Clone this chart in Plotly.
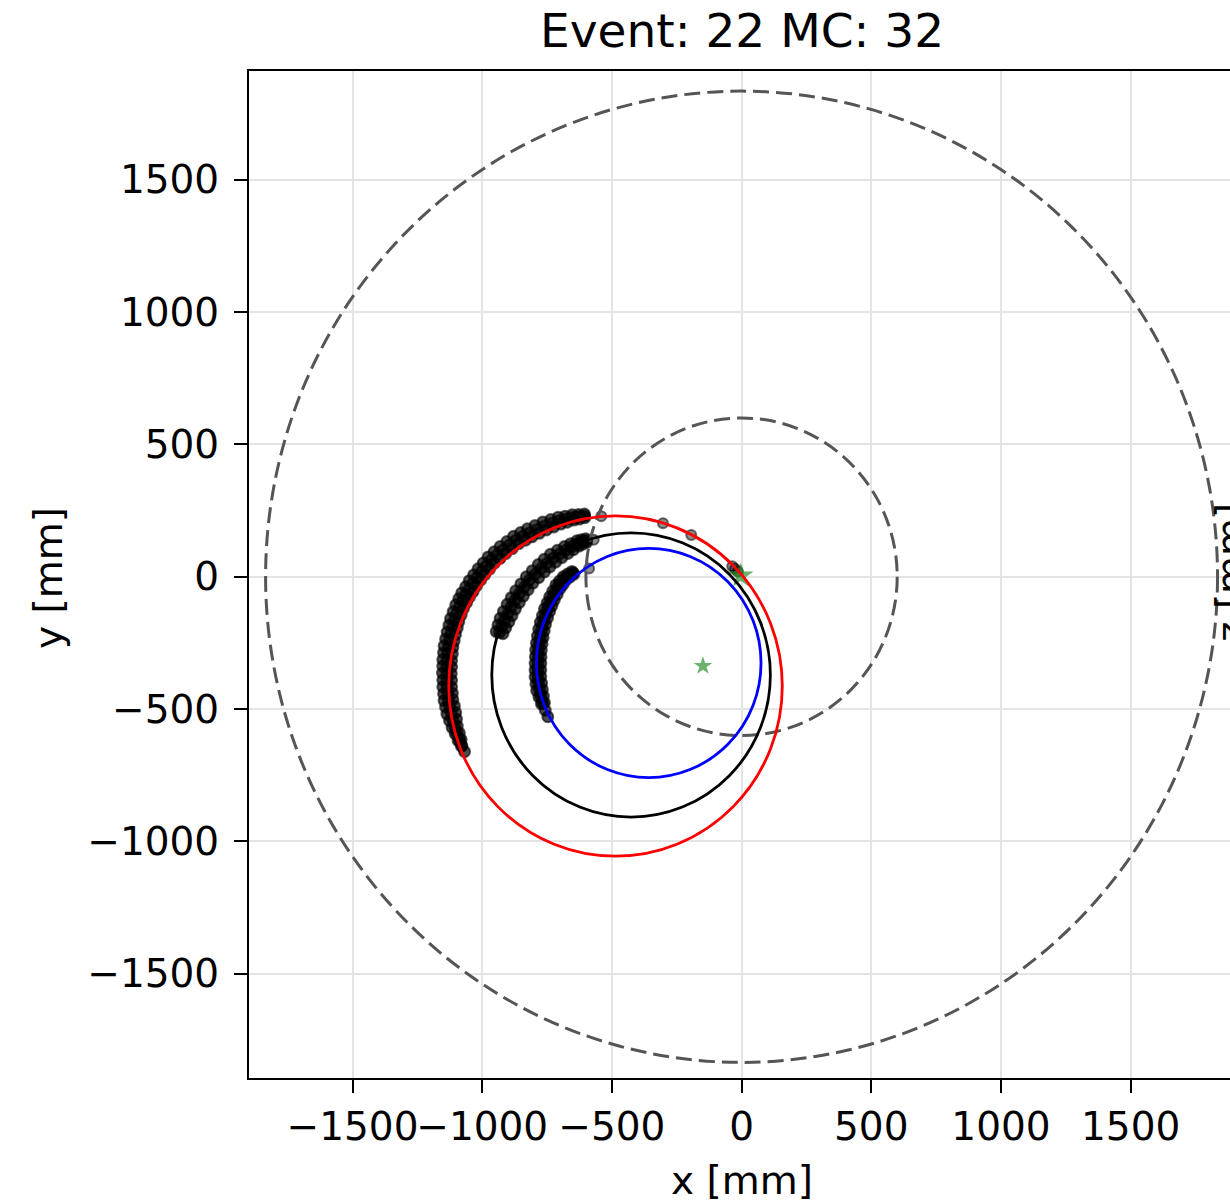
import plotly.graph_objects as go

# ---------------- data (mm) ----------------
title_text = "Event: 22 MC: 32"
tick_vals = [-1500, -1000, -500, 0, 500, 1000, 1500]

# outer arc of hits (rows read across the dense band: centre, mid-centre, outer, inner, outer-mid, inner-mid)
arc1_x = [-1068, -1087, -1106, -1119, -1130, -1135, -1136, -1135, -1130, -1119, -1106, -1087,
          -1064, -1036, -1003, -965, -920, -869, -817, -759, -702, -650, -605,
          -1078, -1097, -1113, -1125, -1133, -1136, -1136, -1133, -1125, -1113, -1097, -1076,
          -1050, -1020, -984, -943, -895, -843, -788, -731, -676, -628,
          -1093, -1116, -1136, -1147, -1152, -1153, -1152, -1147, -1135, -1122, -1102, -1079,
          -1050, -1016, -977, -931, -879, -826, -766, -707, -653, -606,
          -1081, -1096, -1102, -1113, -1118, -1119, -1118, -1113, -1103, -1090, -1072, -1049,
          -1022, -990, -953, -909, -859, -808, -752, -697, -647, -604,
          -1080, -1104, -1126, -1141, -1149, -1152, -1152, -1149, -1141, -1128, -1112, -1090,
          -1064, -1033, -996, -954, -905, -852, -796, -736, -680, -629,
          -1088, -1099, -1107, -1115, -1118, -1118, -1115, -1108, -1096, -1081, -1060, -1035,
          -1006, -971, -931, -884, -833, -780, -724, -672, -625]
arc1_y = [-661, -617, -567, -516, -466, -416, -365, -315, -264, -214, -164, -113,
          -69, -25, 19, 63, 101, 139, 166, 192, 212, 224, 230,
          -639, -592, -541, -491, -441, -390, -340, -289, -239, -189, -138, -91,
          -47, -3, 41, 82, 120, 153, 179, 202, 218, 227,
          -619, -570, -519, -468, -416, -364, -313, -261, -209, -158, -106, -61,
          -15, 30, 75, 114, 153, 181, 207, 225, 234, 237,
          -615, -564, -513, -464, -416, -366, -317, -267, -219, -170, -120, -77,
          -35, 8, 51, 88, 125, 151, 177, 199, 214, 223,
          -640, -594, -544, -493, -442, -390, -338, -287, -235, -183, -132, -83,
          -38, 7, 52, 94, 133, 167, 194, 216, 229, 235,
          -590, -538, -488, -440, -391, -341, -292, -243, -194, -145, -98, -56,
          -13, 29, 69, 106, 138, 164, 188, 206, 218]

# middle arc of hits
arc2_x = [-933, -914, -888, -856, -817, -772, -727, -676, -631, -599,
          -924, -901, -872, -837, -795, -750, -702, -654, -615,
          -946, -931, -904, -871, -830, -784, -737, -683, -635, -601,
          -920, -897, -872, -841, -804, -760, -717, -669, -627, -597,
          -939, -918, -888, -851, -807, -761, -710, -659, -618,
          -909, -885, -857, -823, -782, -739, -693, -648, -612]
arc2_y = [-211, -164, -113, -63, -12, 32, 70, 101, 126, 137,
          -188, -139, -88, -38, 10, 51, 86, 114, 132,
          -207, -157, -104, -53, 0, 46, 85, 114, 136, 144,
          -215, -171, -122, -73, -24, 18, 55, 88, 116, 130,
          -182, -131, -79, -27, 23, 66, 100, 125, 140,
          -193, -147, -98, -49, -3, 37, 72, 102, 123]

# inner arc of hits
arc3_x = [-747, -766, -779, -785, -785, -783, -776, -766, -750, -731, -708, -682, -650,
          -757, -773, -782, -785, -784, -780, -771, -758, -741, -720, -695, -666,
          -772, -790, -796, -796, -794, -787, -776, -760, -740, -716, -688, -654,
          -760, -768, -774, -774, -772, -765, -756, -740, -722, -700, -676, -646,
          -781, -793, -796, -795, -791, -782, -768, -750, -728, -702, -671,
          -764, -771, -774, -773, -769, -761, -748, -731, -711, -688, -661]
arc3_y = [-529, -478, -428, -378, -327, -277, -227, -176, -126, -82, -38, -6, 15,
          -504, -453, -403, -353, -302, -252, -202, -151, -104, -60, -22, 5,
          -480, -430, -379, -327, -276, -224, -172, -121, -76, -31, 0, 20,
          -476, -426, -377, -327, -278, -230, -180, -131, -88, -45, -12, 10,
          -455, -405, -353, -302, -250, -198, -147, -99, -54, -16, 10,
          -451, -402, -352, -303, -254, -205, -156, -110, -67, -29, -1]

# isolated hits
iso_x = [-541, -570, -588, -303, -194, -36, -25, -14]
iso_y = [229, 140, 31, 202, 158, 40, 30, 20]

# green stars: vertex and small star
star_x = [-3, -149]
star_y = [4, -337]
star_size = [19, 14]

# circles: detector boundaries (dashed) and track fits
circle_cx = [0, 0, -486, -426, -358]
circle_cy = [0, 0, -413, -371, -326]
circle_r = [1835, 600, 643, 537, 433]
circle_color = ["#555555", "#555555", "#ff0000", "#000000", "#0000ff"]
circle_dash = ["16px,7px", "16px,7px", "solid", "solid", "solid"]
circle_width = [3, 3, 2.8, 2.8, 2.8]

FONT = "DejaVu Sans"

fig = go.Figure()

band_marker = dict(size=11, color="rgba(0,0,0,0.7)",
                   line=dict(color="rgba(0,0,0,0.6)", width=2))
iso_marker = dict(size=10, color="rgba(0,0,0,0.45)",
                  line=dict(color="rgba(0,0,0,0.55)", width=2))
for xs, ys in [(arc1_x, arc1_y), (arc2_x, arc2_y), (arc3_x, arc3_y)]:
    fig.add_trace(go.Scatter(x=xs, y=ys, mode="markers", marker=band_marker,
                             showlegend=False, hoverinfo="skip"))
fig.add_trace(go.Scatter(x=iso_x, y=iso_y, mode="markers", marker=iso_marker,
                         showlegend=False, hoverinfo="skip"))

for cx, cy, r, col, dash, w in zip(circle_cx, circle_cy, circle_r, circle_color,
                                   circle_dash, circle_width):
    fig.add_shape(type="circle", xref="x", yref="y",
                  x0=cx - r, y0=cy - r, x1=cx + r, y1=cy + r,
                  line=dict(color=col, width=w, dash=dash), layer="above")

fig.add_trace(go.Scatter(x=star_x, y=star_y, mode="markers",
                         marker=dict(symbol="star", size=star_size,
                                     color="rgba(34,139,34,0.95)", line=dict(width=0)),
                         showlegend=False, hoverinfo="skip"))

axis_common = dict(
    tickvals=tick_vals, ticks="outside", ticklen=13, tickwidth=2, tickcolor="black",
    showline=True, linecolor="black", linewidth=2, tickangle=0,
    showgrid=True, gridcolor="#e4e4e4", gridwidth=2, zeroline=False,
    tickfont=dict(family=FONT, size=39, color="black"),
)

fig.update_xaxes(range=[-1899, 1883], mirror=True, **axis_common)
fig.update_yaxes(range=[-1894, 1911], mirror=False, ticklabelstandoff=7, **axis_common)

fig.update_layout(
    width=1230, height=1204, autosize=False,
    margin=dict(l=249, r=0, t=71, b=126, pad=0),
    plot_bgcolor="white", paper_bgcolor="white",
    showlegend=False,
    annotations=[
        dict(text=title_text, xref="paper", yref="paper", x=0.5026, y=1.0405,
             xanchor="center", yanchor="middle", showarrow=False,
             font=dict(family=FONT, size=47, color="black")),
        dict(text="x [mm]", xref="paper", yref="paper", x=0.5026, y=-0.1013,
             xanchor="center", yanchor="middle", showarrow=False,
             font=dict(family=FONT, size=39, color="black")),
        dict(text="y [mm]", xref="paper", yref="paper", x=-0.2049, y=0.4965,
             xanchor="center", yanchor="middle", showarrow=False, textangle=-90,
             font=dict(family=FONT, size=39, color="black")),
        dict(text="z [mm]", xref="paper", yref="paper", x=1.001, y=0.5025,
             xanchor="center", yanchor="middle", showarrow=False, textangle=-90,
             font=dict(family=FONT, size=39, color="black")),
    ],
)

fig.write_html("out.html")
